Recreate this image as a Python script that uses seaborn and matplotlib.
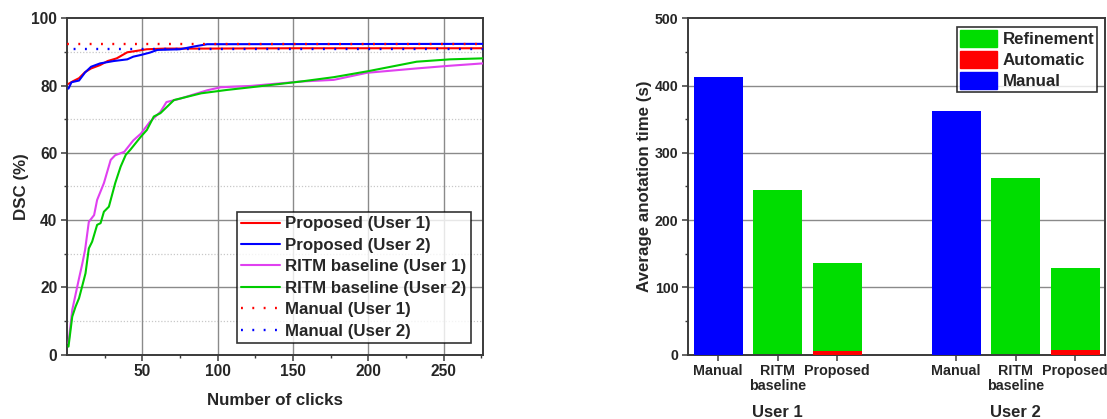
import numpy as np
import pandas as pd
import matplotlib
matplotlib.use("Agg")
import matplotlib.pyplot as plt
from matplotlib.patches import Patch
from matplotlib.lines import Line2D
import seaborn as sns

sns.set_theme(style="white")
plt.rcParams['font.family'] = ['Liberation Sans', 'DejaVu Sans']
plt.rcParams['font.weight'] = 'bold'

# ---------------- data: DSC vs clicks ----------------
prop_u1_x = [1, 4, 8, 12, 16, 22, 27, 33, 40, 46, 53, 65, 90, 150, 276]
prop_u1_y = [80.5, 81.3, 82.2, 84.0, 85.1, 86.1, 87.3, 88.1, 89.9, 90.3, 90.8, 91.0, 91.0, 91.1, 91.1]

prop_u2_x = [1, 3, 8, 12, 16, 22, 31, 40, 44, 49, 55, 60, 75, 84, 93, 276]
prop_u2_y = [79.1, 81.0, 81.5, 83.9, 85.6, 86.6, 87.3, 87.8, 88.6, 89.1, 89.8, 90.6, 90.8, 91.6, 92.3, 92.4]

ritm_u1_x = [1, 3.5, 8, 10, 12, 14.5, 18, 20, 24.5, 29, 32, 38, 44, 49, 55, 62, 66, 75, 93, 102,
             122, 155, 177, 199, 232, 254, 276]
ritm_u1_y = [3.4, 13.3, 22.7, 26.7, 31.1, 39.5, 41.5, 46, 51, 57.9, 59.3, 60.3, 63.7, 65.7, 69.2,
             72.2, 75.1, 76.1, 78.6, 79.5, 79.9, 81.2, 81.7, 83.8, 85.1, 85.9, 86.6]

ritm_u2_x = [1, 3.5, 5.7, 8, 10, 12.3, 14.5, 16.7, 20, 22.3, 24.5, 27.8, 29, 32, 35.6, 39, 42, 49,
             53, 57.6, 62, 71, 80, 89, 106, 122, 155, 177, 200, 232, 254, 276]
ritm_u2_y = [2.4, 11.3, 14.3, 16.8, 20.2, 24.2, 31.6, 33.6, 38.6, 39.1, 42.5, 44, 46, 51, 55.9,
             59.4, 60.9, 64.8, 66.8, 70.8, 71.8, 75.7, 76.7, 77.7, 78.7, 79.5, 81.2, 82.5, 84.3,
             87.1, 87.8, 88.1]

manual_u1_dsc = 92.4
manual_u2_dsc = 90.8
click_range = [0, 276]

# ---------------- data: annotation time ----------------
bar_labels = ["Manual", "RITM\nbaseline", "Proposed", "Manual", "RITM\nbaseline", "Proposed"]
bar_pos = [0, 1, 2, 4, 5, 6]
t_manual = [413, 0, 0, 362, 0, 0]
t_automatic = [0, 0, 6, 0, 0, 7]
t_refinement = [0, 245, 130, 0, 262, 122]
user_labels = ["User 1", "User 2"]

RED = "#FF0000"
BLUE = "#0000FF"
MAG = "#E040F0"
GRN_LINE = "#00CC00"
GRN_BAR = "#00DD00"
SPINE = "#3a3a3a"
DOT = (0, (0.8, 4.0))

fig = plt.figure(figsize=(11.07, 4.19), dpi=100)
ax1 = fig.add_axes([0.0605, 0.1535, 0.3758, 0.8028])
ax2 = fig.add_axes([0.6218, 0.1535, 0.3764, 0.8028])

# ---------------- left panel ----------------
series = [
    (prop_u1_x, prop_u1_y, RED, "Proposed (User 1)"),
    (prop_u2_x, prop_u2_y, BLUE, "Proposed (User 2)"),
    (ritm_u1_x, ritm_u1_y, MAG, "RITM baseline (User 1)"),
    (ritm_u2_x, ritm_u2_y, GRN_LINE, "RITM baseline (User 2)"),
]
for v in [10, 30, 50, 70, 90]:
    ax1.axhline(v, color="#c8c8c8", lw=0.9, ls=(0, (1, 1.5)), zorder=0)
for v in [20, 40, 60, 80]:
    ax1.axhline(v, color="#8a8a8a", lw=1.0, zorder=0)
for v in [50, 100, 150, 200, 250]:
    ax1.axvline(v, color="#8a8a8a", lw=1.0, zorder=0)

for xs, ys, c, lab in series:
    sns.lineplot(x=xs, y=ys, ax=ax1, color=c, lw=1.5, zorder=3)
sns.lineplot(x=click_range, y=[manual_u1_dsc] * 2, ax=ax1, color=RED, lw=1.7,
             linestyle=DOT, zorder=4)
sns.lineplot(x=click_range, y=[manual_u2_dsc] * 2, ax=ax1, color=BLUE, lw=1.7,
             linestyle=(2, (0.8, 4.0)), zorder=4)

ax1.set_xlim(0, 276)
ax1.set_ylim(0, 100)
ax1.set_xticks([50, 100, 150, 200, 250])
ax1.set_xticks([25, 75, 125, 175, 225, 275], minor=True)
ax1.set_yticks([0, 20, 40, 60, 80, 100])
ax1.set_yticks([10, 30, 50, 70, 90], minor=True)
ax1.set_xlabel("Number of clicks", fontsize=12.2, fontweight="bold", labelpad=10)
ax1.set_ylabel("DSC (%)", fontsize=12.2, fontweight="bold", labelpad=2)

handles = [Line2D([], [], color=c, lw=1.5) for _, _, c, _ in series]
handles += [Line2D([], [], color=RED, lw=1.7, ls=DOT),
            Line2D([], [], color=BLUE, lw=1.7, ls=DOT)]
labels = [s[3] for s in series] + ["Manual (User 1)", "Manual (User 2)"]
leg1 = ax1.legend(handles, labels, loc="lower right", bbox_to_anchor=(0.970, 0.035),
                  prop={"weight": "bold", "size": 12.2}, frameon=True, fancybox=False,
                  handlelength=2.3, handletextpad=0.3, labelspacing=0.38,
                  borderpad=0.25, borderaxespad=0)
leg1.get_frame().set_edgecolor("black")
leg1.get_frame().set_linewidth(1.2)

# ---------------- right panel ----------------
for v in [100, 200, 300, 400]:
    ax2.axhline(v, color="#8a8a8a", lw=1.0, zorder=0)

refine_total = [a + r for a, r in zip(t_automatic, t_refinement)]
sns.barplot(x=bar_pos, y=refine_total, ax=ax2, color=GRN_BAR, native_scale=True,
            width=0.82, saturation=1, linewidth=0, zorder=2)
sns.barplot(x=bar_pos, y=t_automatic, ax=ax2, color=RED, native_scale=True,
            width=0.82, saturation=1, linewidth=0, zorder=3)
sns.barplot(x=bar_pos, y=t_manual, ax=ax2, color=BLUE, native_scale=True,
            width=0.82, saturation=1, linewidth=0, zorder=3)

ax2.set_xlim(-0.5, 6.5)
ax2.set_ylim(0, 500)
ax2.set_xticks(bar_pos)
ax2.set_xticklabels(bar_labels, fontsize=10.3, fontweight="bold", linespacing=1.05)
ax2.set_yticks([0, 100, 200, 300, 400, 500])
ax2.set_yticks([50, 150, 250, 350, 450], minor=True)
ax2.set_xlabel("")
ax2.set_ylabel("Average anotation time (s)", fontsize=12.2, fontweight="bold", labelpad=2)
for lab, pos in zip(user_labels, [1, 5]):
    ax2.text(pos, -0.172, lab, transform=ax2.get_xaxis_transform(), ha="center", va="center",
             fontsize=12, fontweight="bold")

leg2 = ax2.legend([Patch(color=GRN_BAR), Patch(color=RED), Patch(color=BLUE)],
                  ["Refinement", "Automatic", "Manual"], loc="upper right",
                  bbox_to_anchor=(0.981, 0.975), prop={"weight": "bold", "size": 12.2},
                  frameon=True, fancybox=False, handlelength=2.2, handleheight=1.2,
                  handletextpad=0.3, labelspacing=0.22, borderpad=0.18, borderaxespad=0)
leg2.get_frame().set_edgecolor("black")
leg2.get_frame().set_linewidth(1.2)

for ax, ls in ((ax1, 11.2), (ax2, 10.2)):
    for s in ax.spines.values():
        s.set_color(SPINE)
        s.set_linewidth(1.4)
        s.set_visible(True)
    ax.tick_params(axis="both", which="major", direction="out", length=4, width=1.1,
                   color=SPINE, labelsize=ls, pad=3, bottom=True, left=True)
    ax.tick_params(axis="both", which="minor", direction="out", length=2.5, width=1.0,
                   color=SPINE, bottom=True, left=True)
    for t in ax.get_xticklabels() + ax.get_yticklabels():
        t.set_fontweight("bold")
ax2.tick_params(axis="x", which="minor", bottom=False)
ax2.tick_params(axis="x", labelsize=10.3)

fig.savefig("out.png", dpi=100)
